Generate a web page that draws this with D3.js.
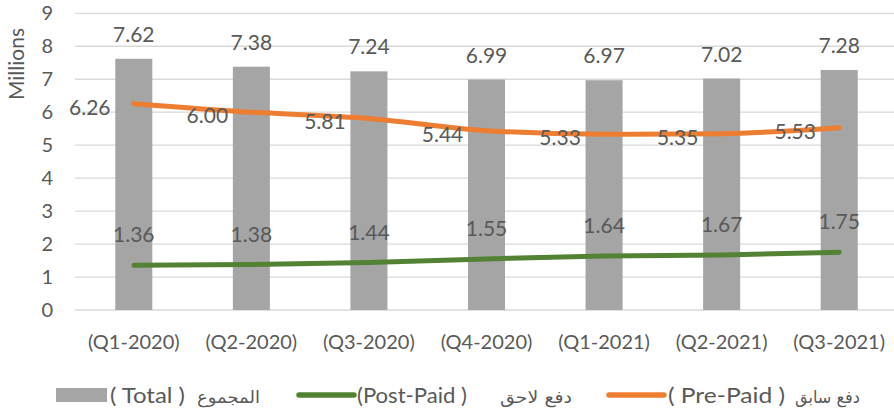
<!DOCTYPE html>
<html>
<head>
<meta charset="utf-8">
<script src="https://cdn.jsdelivr.net/npm/d3@7"></script>
<style>
  body { margin: 0; background: #fff; }
  svg text { font-family: Lato, "Open Sans", sans-serif; fill: #595959; }
</style>
</head>
<body>
<svg id="chart" width="894" height="411"></svg>
<script>
var categories = ["(Q1-2020)", "(Q2-2020)", "(Q3-2020)", "(Q4-2020)", "(Q1-2021)", "(Q2-2021)", "(Q3-2021)"];
var total = [7.62, 7.38, 7.24, 6.99, 6.97, 7.02, 7.28];
var prePaid = [6.26, 6.00, 5.81, 5.44, 5.33, 5.35, 5.53];
var postPaid = [1.36, 1.38, 1.44, 1.55, 1.64, 1.67, 1.75];
var yTicks = [0, 1, 2, 3, 4, 5, 6, 7, 8, 9];

var GRAY = "#a5a5a5", ORANGE = "#ed7d31", GREEN = "#548235";

var svg = d3.select("#chart");

var x = d3.scaleBand()
    .domain(categories)
    .range([75, 898]);

var y = d3.scaleLinear()
    .domain([0, 9])
    .range([310, 13.3]);

function cx(d, i) { return x(categories[i]) + x.bandwidth() / 2; }

// gridlines
svg.append("g")
    .selectAll("line")
    .data(yTicks)
    .enter()
    .append("line")
    .attr("x1", 75)
    .attr("x2", 894)
    .attr("y1", function(d) { return y(d); })
    .attr("y2", function(d) { return y(d); })
    .attr("stroke", "#d9d9d9")
    .attr("stroke-width", 1.3);

// y tick labels
svg.append("g")
    .selectAll("text")
    .data(yTicks)
    .enter()
    .append("text")
    .attr("x", 53)
    .attr("y", function(d) { return y(d) + 7; })
    .attr("text-anchor", "end")
    .style("font-size", "20px")
    .text(function(d) { return d; });

svg.append("text")
    .attr("transform", "translate(24,64) rotate(-90)")
    .attr("text-anchor", "middle")
    .style("font-size", "21px")
    .text("Millions");

// bars
var barW = x.bandwidth() * 0.315;
svg.append("g")
    .selectAll("rect")
    .data(total)
    .enter()
    .append("rect")
    .attr("x", function(d, i) { return cx(d, i) - barW / 2; })
    .attr("y", function(d) { return y(d); })
    .attr("width", barW)
    .attr("height", function(d) { return y(0) - y(d); })
    .attr("fill", GRAY);

svg.append("g")
    .selectAll("text")
    .data(total)
    .enter()
    .append("text")
    .attr("x", cx)
    .attr("y", function(d) { return y(d) - 17; })
    .attr("text-anchor", "middle")
    .style("font-size", "21px")
    .text(function(d) { return d.toFixed(2); });

// lines
var line = d3.line()
    .x(cx)
    .y(function(d) { return y(d); })
    .curve(d3.curveMonotoneX);

[[prePaid, ORANGE], [postPaid, GREEN]].forEach(function(s) {
    svg.append("path")
        .datum(s[0])
        .attr("d", line)
        .attr("fill", "none")
        .attr("stroke", s[1])
        .attr("stroke-width", 5)
        .attr("stroke-linecap", "round");
});

// pre-paid labels sit left of the point
svg.append("g")
    .selectAll("text")
    .data(prePaid)
    .enter()
    .append("text")
    .attr("x", function(d, i) { return cx(d, i) - 44; })
    .attr("y", function(d) { return y(d) + 11; })
    .attr("text-anchor", "middle")
    .style("font-size", "21px")
    .text(function(d) { return d.toFixed(2); });

// post-paid labels above
svg.append("g")
    .selectAll("text")
    .data(postPaid)
    .enter()
    .append("text")
    .attr("x", cx)
    .attr("y", function(d) { return y(d) - 23; })
    .attr("text-anchor", "middle")
    .style("font-size", "21px")
    .text(function(d) { return d.toFixed(2); });

// category labels
svg.append("g")
    .selectAll("text")
    .data(categories)
    .enter()
    .append("text")
    .attr("x", function(d, i) { return cx(d, i); })
    .attr("y", 349)
    .attr("text-anchor", "middle")
    .style("font-size", "20px")
    .text(function(d) { return d; });

// legend
var leg = svg.append("g");

function legText(x0, w, txt, arabic) {
    var t = leg.append("text")
        .attr("y", 403)
        .attr("textLength", w)
        .attr("lengthAdjust", "spacingAndGlyphs")
        .style("font-family", arabic ? "'DejaVu Sans', sans-serif" : "Lato, sans-serif")
        .style("font-size", arabic ? "17px" : "21px")
        .text(txt);
    if (arabic) {
        t.attr("x", x0 + w).attr("direction", "rtl");
    } else {
        t.attr("x", x0);
    }
    return t;
}

leg.append("rect").attr("x", 56).attr("y", 388).attr("width", 51).attr("height", 14).attr("fill", GRAY);
legText(110, 75, "( Total )", false);
legText(197, 63, "المجموع", true);

leg.append("line").attr("x1", 299).attr("x2", 354).attr("y1", 395).attr("y2", 395)
    .attr("stroke", GREEN).attr("stroke-width", 5.5).attr("stroke-linecap", "round");
legText(357, 110, "(Post-Paid )", false);
legText(500, 72, "دفع لاحق", true);

leg.append("line").attr("x1", 609).attr("x2", 664).attr("y1", 395).attr("y2", 395)
    .attr("stroke", ORANGE).attr("stroke-width", 5.5).attr("stroke-linecap", "round");
legText(668, 117, "( Pre-Paid )", false);
legText(795, 65, "دفع سابق", true);
</script>
</body>
</html>
